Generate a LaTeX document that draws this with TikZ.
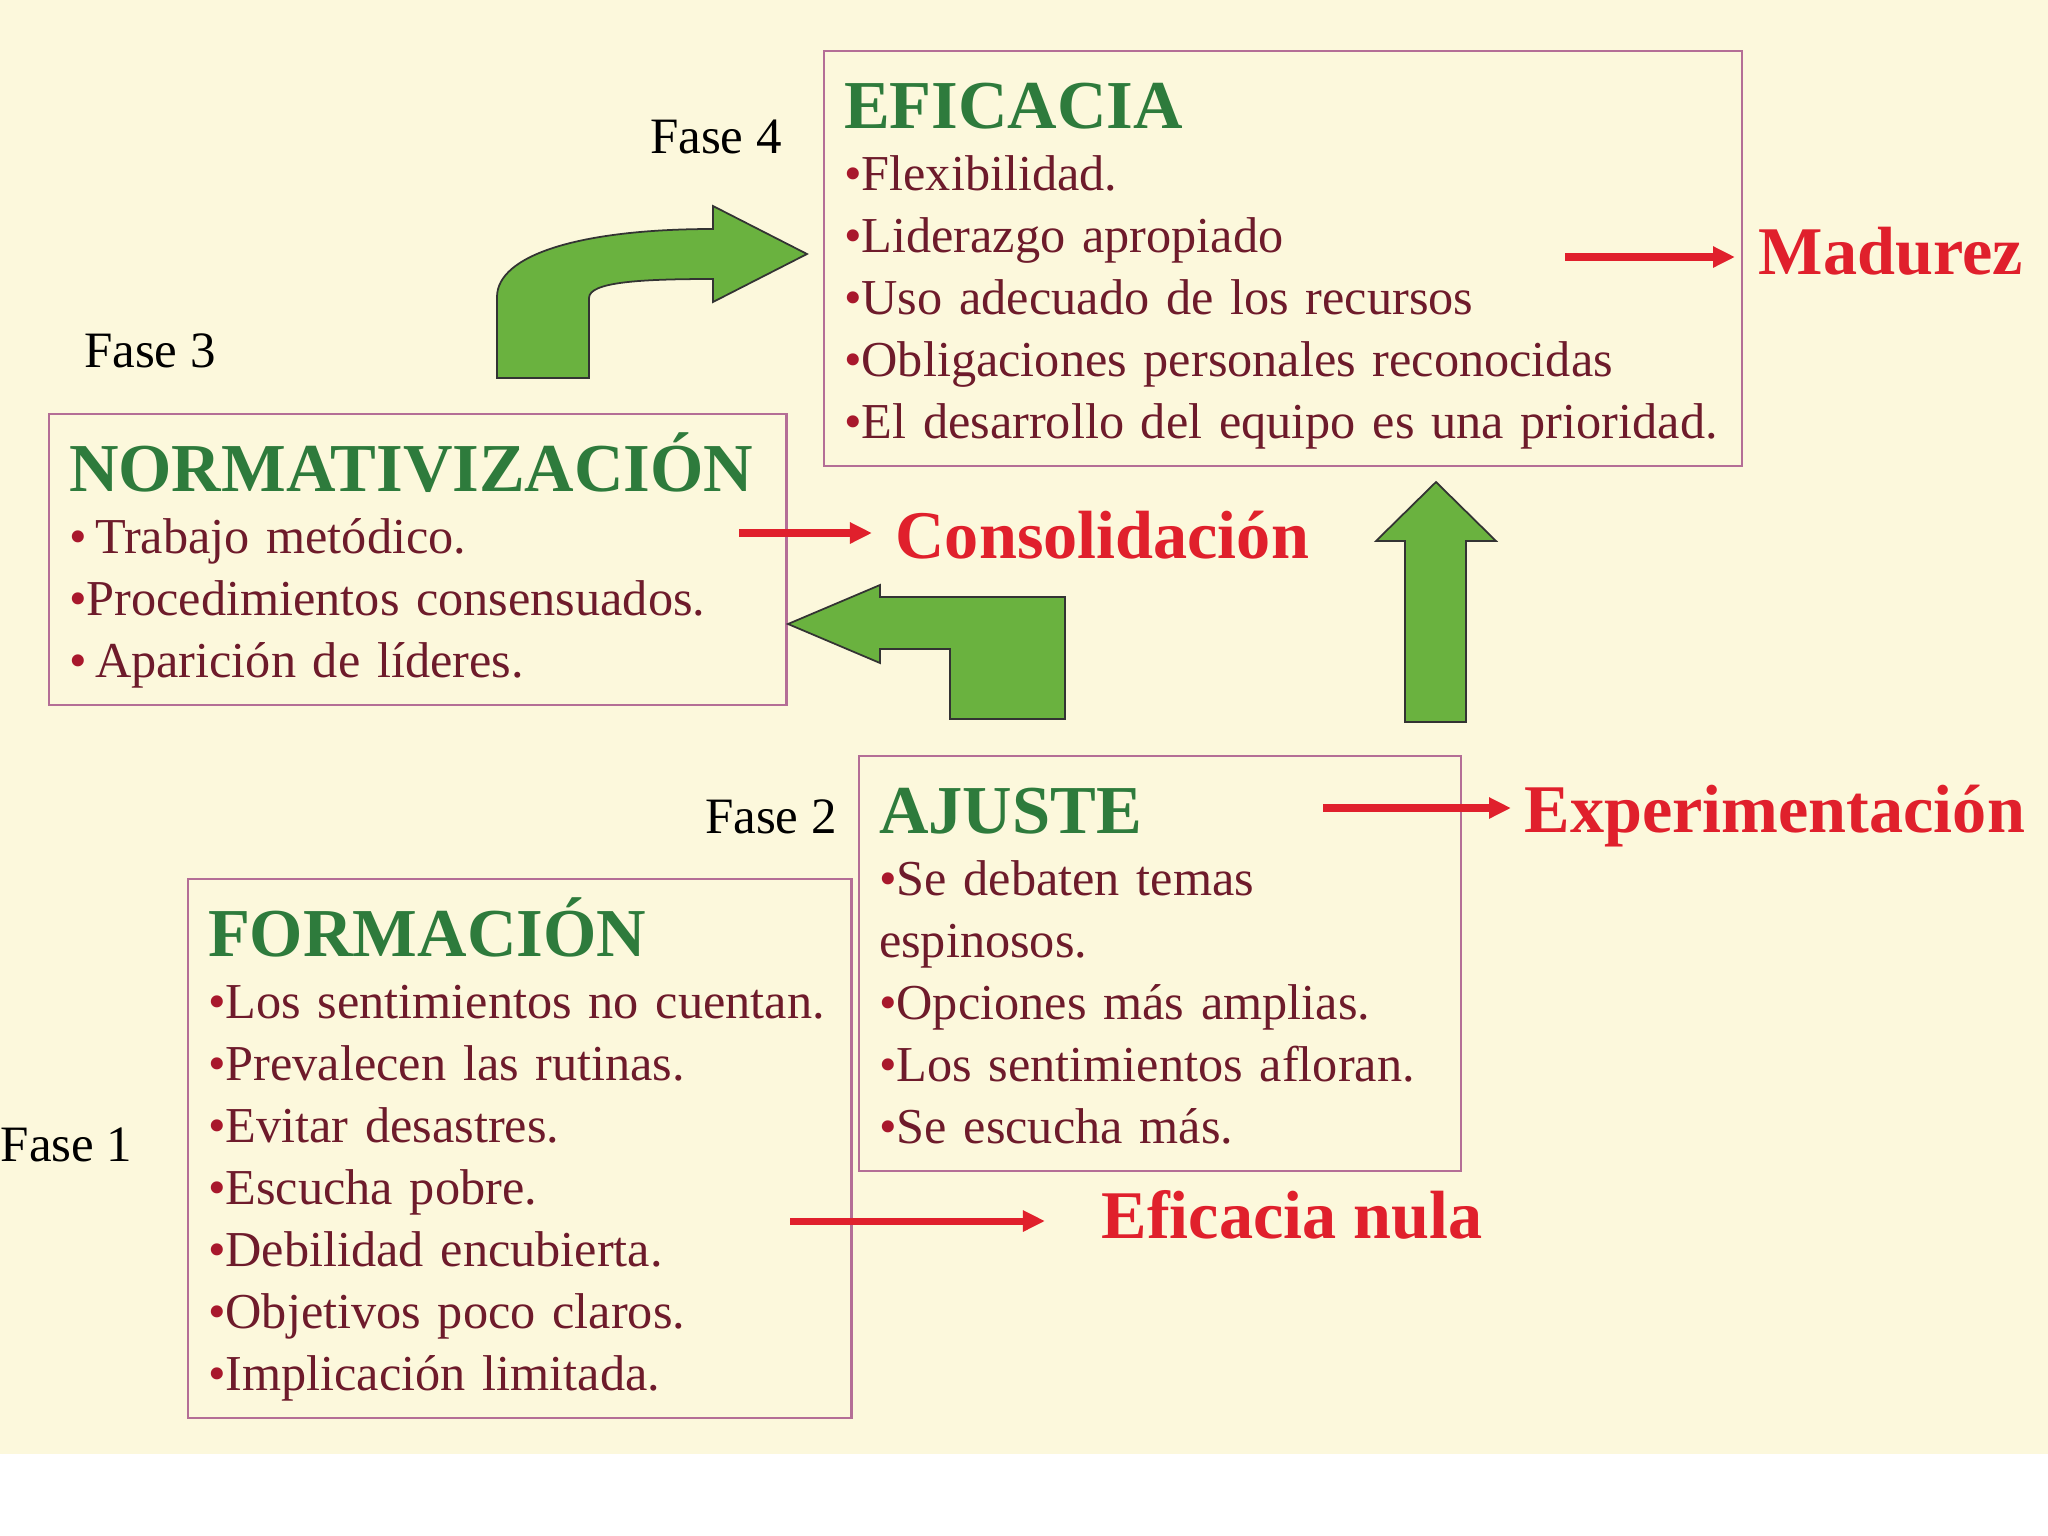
\documentclass[tikz,border=0pt]{standalone}
\usepackage{fontspec}
\setmainfont{Liberation Serif}
\usetikzlibrary{arrows.meta, positioning, calc}
\definecolor{cream}{HTML}{FCF8DC}
\definecolor{boxline}{HTML}{B46E96}
\definecolor{headgreen}{HTML}{2E7B3C}
\definecolor{bodytext}{HTML}{6E1B2B}
\definecolor{bulletred}{HTML}{A8182C}
\definecolor{labelred}{HTML}{E0202C}
\definecolor{arrowgreen}{HTML}{6AB23F}
\newcommand{\bul}{\textcolor{bulletred}{•}}
\newcommand{\point}[1]{\mbox{\bul#1}}
\newcommand{\topstrut}{\rule{0pt}{21.9pt}}
\newcommand{\botstrut}{\rule[-7.9pt]{0pt}{7.9pt}}
\newcommand{\heading}[1]{{\fontsize{19.5}{17.64}\selectfont\bfseries\color{headgreen}\topstrut#1}}
\tikzset{
    phase/.style={rectangle, draw=boxline, line width=0.6pt, anchor=north west, align=left, inner xsep=0.2cm, inner ysep=0pt, text=bodytext, font=\fontsize{14.3}{17.64}\selectfont},
    fase/.style={inner sep=0pt, anchor=base, text=black, font=\fontsize{14.5}{17}\selectfont},
    outcome/.style={anchor=base west, inner xsep=0.23cm, text=labelred, font=\fontsize{19.4}{22}\selectfont\bfseries},
    redarrow/.style={draw=labelred, line width=2pt, -{Triangle[length=0.22cm, width=0.2cm]}},
    bigarrow/.style={fill=arrowgreen, draw=black!80, line width=0.5pt, line join=miter}
}

\begin{document}
\begin{tikzpicture}[x=0.01cm, y=-0.01cm]

\useasboundingbox (0,0) rectangle (2048,1536);
\fill[cream] (0,0) rectangle (2048,1454);

% Phase boxes
\node (eficacia) [phase, text width=8.77cm] at (823,50) {\heading{EFICACIA}\\
    \point{Flexibilidad.}\\
    \point{Liderazgo apropiado}\\
    \point{Uso adecuado de los recursos}\\
    \point{Obligaciones personales reconocidas}\\
    \point{El desarrollo del equipo es una prioridad.}\botstrut};
\node (normativizacion) [phase, text width=6.97cm] at (48,413) {\heading{NORMATIVIZACIÓN}\\
    \point{\,Trabajo metódico.}\\
    \point{Procedimientos consensuados.}\\
    \point{\,Aparición de líderes.}\botstrut};
\node (ajuste) [phase, text width=5.62cm] at (858,755) {\heading{AJUSTE}\\
    \point{Se debaten temas}\\
    espinosos.\\
    \point{Opciones más amplias.}\\
    \point{Los sentimientos afloran.}\\
    \point{Se escucha más.}\botstrut};
\node (formacion) [phase, text width=6.23cm] at (187,878) {\heading{FORMACIÓN}\\
    \point{Los sentimientos no cuentan.}\\
    \point{Prevalecen las rutinas.}\\
    \point{Evitar desastres.}\\
    \point{Escucha pobre.}\\
    \point{Debilidad encubierta.}\\
    \point{Objetivos poco claros.}\\
    \point{Implicación limitada.}\botstrut};

% Phase labels
\node (fase4) [fase] at (716,153) {Fase 4};
\node (fase3) [fase] at (150,367) {Fase 3};
\node (fase2) [fase] at (771,833) {Fase 2};
\node (fase1) [fase, anchor=base west] at (0,1161) {Fase 1};

% Outcomes
\node (madurez) [outcome] at (1735,274) {Madurez};
\node (consolidacion) [outcome] at (872,558) {Consolidación};
\node (experimentacion) [outcome, inner xsep=0.13cm] at (1511,832) {Experimentación};
\node (eficaciaNula) [outcome, inner xsep=0.56cm] at (1045,1238) {Eficacia nula};

\coordinate (madurezFrom) at (1565,257);
\coordinate (consolidacionFrom) at (739,533);
\coordinate (experimentacionFrom) at (1323,808);
\coordinate (nulaFrom) at (790,1221);

% Arrows
\draw [redarrow] (madurezFrom) -- (madurezFrom -| madurez.west);
\draw [redarrow] (consolidacionFrom) -- (consolidacionFrom -| consolidacion.west);
\draw [redarrow] (experimentacionFrom) -- (experimentacionFrom -| experimentacion.west);
\draw [redarrow] (nulaFrom) -- (nulaFrom -| eficaciaNula.west);

% Green block arrows
\draw [bigarrow] (497,378) -- (497,297) .. controls (497,255) and (580,229) .. (713,229)
    -- (713,206) -- (807,254) -- (713,302) -- (713,279)
    .. controls (640,279) and (589,282) .. (589,298) -- (589,378) -- cycle;
\draw [bigarrow] (788,624) -- (880,585) -- (880,597) -- (1065,597) -- (1065,719)
    -- (950,719) -- (950,649) -- (880,649) -- (880,663) -- cycle;
\draw [bigarrow] (1436,482) -- (1496,541) -- (1466,541) -- (1466,722)
    -- (1405,722) -- (1405,541) -- (1376,541) -- cycle;

\end{tikzpicture}
\end{document}
